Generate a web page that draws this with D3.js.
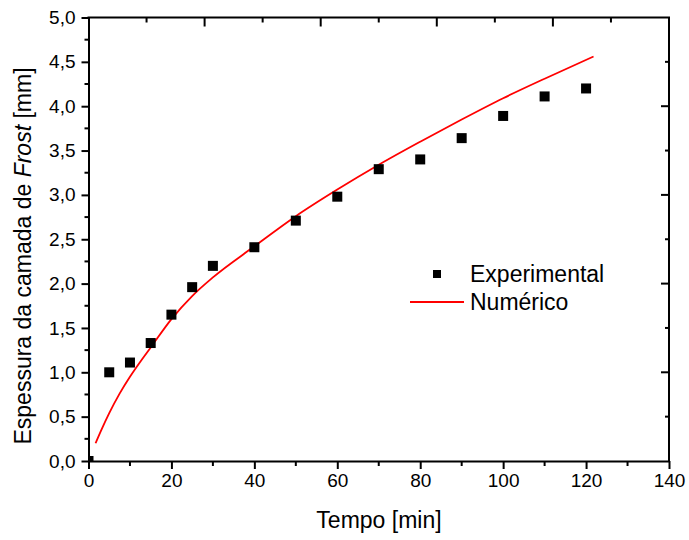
<!DOCTYPE html>
<html>
<head>
<meta charset="utf-8">
<script src="https://cdn.jsdelivr.net/npm/d3@7"></script>
<style>
  html, body { margin: 0; padding: 0; background: #fff; }
  svg { display: block; font-family: "Liberation Sans", Arial, sans-serif; }
</style>
</head>
<body>
<svg id="chart" width="689" height="540"></svg>
<script>
// ---- data ----
const expTime = [0, 5, 10, 15, 20, 25, 30, 40, 50, 60, 70, 80, 90, 100, 110, 120];
const expThickness = [0, 1.0, 1.11, 1.33, 1.65, 1.96, 2.2, 2.41, 2.71, 2.98, 3.29, 3.4, 3.64, 3.89, 4.11, 4.2];
const numTime = [1.7, 3, 5, 7.5, 10, 12.5, 15, 20, 25, 30, 40, 50, 60, 70, 80, 90, 100, 110, 121.8];
const numThickness = [0.2, 0.34, 0.54, 0.76, 0.95, 1.12, 1.28, 1.6, 1.86, 2.07, 2.42, 2.76, 3.06, 3.34, 3.6, 3.85, 4.09, 4.31, 4.56];
const xTicks = [0, 20, 40, 60, 80, 100, 120, 140];
const yTicks = [0, 0.5, 1, 1.5, 2, 2.5, 3, 3.5, 4, 4.5, 5];
const legendLabels = ["Experimental", "Numérico"];

const svg = d3.select("#chart");
const L = 88.5, R = 669, T = 17.5, B = 461;
const x = d3.scaleLinear().domain([0, 140]).range([L, R]);
const y = d3.scaleLinear().domain([0, 5]).range([B, T]);
const fmt = d => d3.format(".1f")(d).replace(".", ",");

// clip
svg.append("defs").append("clipPath").attr("id", "clip")
  .append("rect").attr("x", L).attr("y", T).attr("width", R - L).attr("height", B - T);

// minor ticks
const minorX = d3.range(10, 140, 20);
const minorY = d3.range(0.25, 5, 0.5);
const g = svg.append("g").attr("stroke", "#000").attr("stroke-width", 2);
g.selectAll(".mx").data(minorX).join("line")
  .attr("x1", d => x(d)).attr("x2", d => x(d)).attr("y1", B).attr("y2", B + 5);
g.selectAll(".my").data(minorY).join("line")
  .attr("y1", d => y(d)).attr("y2", d => y(d)).attr("x1", L).attr("x2", L - 4);

// top axis (inward ticks, different spacing)
const xTop = d3.scaleLinear().domain([0, 10]).range([L, R]);
g.selectAll(".tt").data(d3.range(1, 10)).join("line")
  .attr("x1", d => xTop(d)).attr("x2", d => xTop(d)).attr("y1", T)
  .attr("y2", d => T + (d % 2 === 0 ? 9 : 5));
// right axis (inward ticks)
g.selectAll(".rt").data(d3.range(0.5, 5, 0.5)).join("line")
  .attr("y1", d => y(d)).attr("y2", d => y(d)).attr("x1", R)
  .attr("x2", d => R - (Math.abs(d % 1) < 1e-6 ? 8 : 4));

// frame top/right
svg.append("line").attr("x1", L - 1).attr("x2", R + 1).attr("y1", T).attr("y2", T).attr("stroke", "#000").attr("stroke-width", 2);
svg.append("line").attr("x1", R).attr("x2", R).attr("y1", T).attr("y2", B).attr("stroke", "#000").attr("stroke-width", 2);

// bottom axis
const xAxis = svg.append("g").attr("transform", `translate(0,${B})`)
  .call(d3.axisBottom(x).tickValues(xTicks).tickSize(8).tickSizeOuter(0).tickPadding(5).tickFormat(d3.format("d")));
// left axis
const yAxis = svg.append("g").attr("transform", `translate(${L},0)`)
  .call(d3.axisLeft(y).tickValues(yTicks).tickSize(7).tickSizeOuter(0).tickPadding(6).tickFormat(fmt));
[xAxis, yAxis].forEach(a => {
  a.select(".domain").attr("stroke-width", 2).attr("stroke", "#000");
  a.selectAll(".tick line").attr("stroke-width", 2).attr("stroke", "#000");
  a.selectAll("text").attr("font-size", 19).attr("fill", "#000")
    .attr("font-family", "'Liberation Sans', Arial, sans-serif");
});

// numeric line
const line = d3.line().x(d => x(d[0])).y(d => y(d[1])).curve(d3.curveMonotoneX);
svg.append("path").datum(d3.zip(numTime, numThickness))
  .attr("d", line).attr("fill", "none").attr("stroke", "#ff0000").attr("stroke-width", 1.8);

// experimental points
const s = 10;
svg.append("g").attr("clip-path", "url(#clip)")
  .selectAll("rect").data(d3.zip(expTime, expThickness)).join("rect")
  .attr("x", d => x(d[0]) - s / 2).attr("y", d => y(d[1]) - s / 2)
  .attr("width", s).attr("height", s).attr("fill", "#000");

// legend
const lg = svg.append("g");
lg.append("rect").attr("x", 437 - 4).attr("y", 274 - 4).attr("width", 8).attr("height", 8).attr("fill", "#000");
lg.append("line").attr("x1", 410).attr("x2", 464).attr("y1", 302).attr("y2", 302).attr("stroke", "#ff0000").attr("stroke-width", 1.8);
lg.selectAll("text").data(legendLabels).join("text")
  .attr("x", 470).attr("y", (d, i) => 282 + i * 28).attr("font-size", 23).attr("fill", "#000").text(d => d);

// axis titles
svg.append("text").attr("x", 379).attr("y", 528).attr("text-anchor", "middle")
  .attr("font-size", 23).attr("fill", "#000").text("Tempo [min]");
const yt = svg.append("text").attr("transform", "translate(31,256) rotate(-90)")
  .attr("text-anchor", "middle").attr("font-size", 23).attr("fill", "#000");
yt.append("tspan").text("Espessura da camada de ");
yt.append("tspan").attr("font-style", "italic").text("Frost");
yt.append("tspan").text(" [mm]");
</script>
</body>
</html>
